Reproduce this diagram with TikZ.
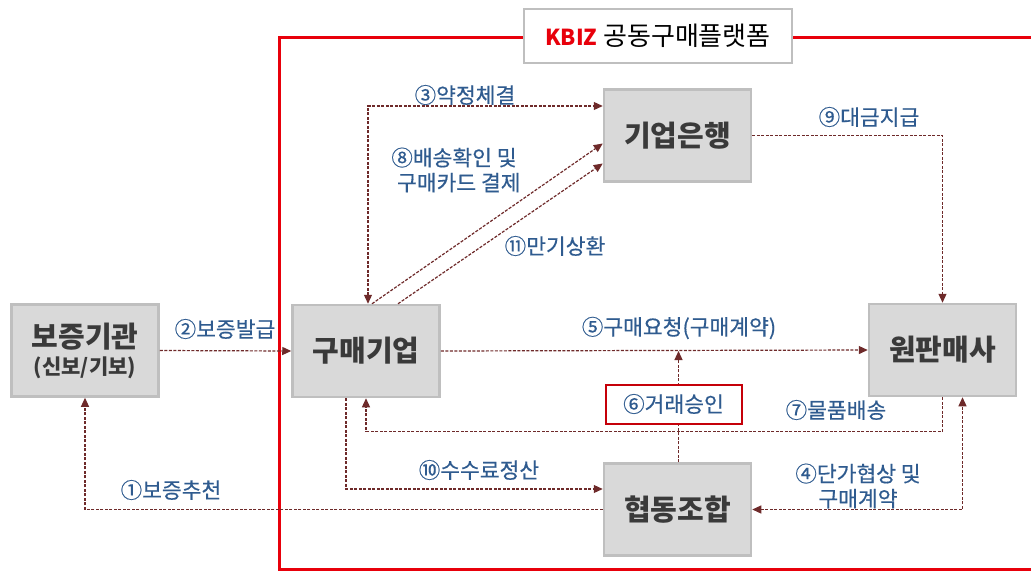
\documentclass[tikz,border=0pt]{standalone}
\usepackage{fontspec}
\setmainfont{Noto Sans CJK KR}
\newfontfamily\labfont[FakeBold=0.5]{Noto Sans CJK KR}
\usetikzlibrary{arrows.meta,calc}
\definecolor{boxfill}{HTML}{D9D9D9}
\definecolor{boxline}{HTML}{BFBFBF}
\definecolor{boxtext}{HTML}{3A3A3A}
\definecolor{lbl}{HTML}{2F5B8F}
\definecolor{arr}{HTML}{6E2A2A}
\definecolor{frame}{HTML}{E8000B}
\begin{document}
\begin{tikzpicture}[x=1pt,y=-1pt,
  box/.style={draw=boxline, line width=2.5pt, fill=boxfill, minimum width=147pt, minimum height=92pt, inner sep=0pt, font=\fontsize{29}{32}\selectfont\bfseries, text=boxtext, align=center},
  lab/.style={font=\labfont\fontsize{21.5}{25}\selectfont, text=lbl, align=center, inner sep=1pt},
  tip/.tip={Triangle[length=9pt,width=8pt]},
  conn/.style={draw=arr, line width=1.2pt, dash pattern=on 3pt off 1.5pt, -tip},
  conn2/.style={draw=arr, line width=1.2pt, dash pattern=on 3pt off 1.5pt, tip-tip}]
\useasboundingbox (0,0) rectangle (1031,571);
% red platform frame
\draw[frame, line width=3pt] (1031,37) -- (279,37) -- (279,569) -- (1031,569);
% boxes
\node[box] (bz) at (85,350.5) {보증기관\\[-5pt]{\fontsize{21}{24}\selectfont (신보/기보)}};
\node[box] (gm) at (366,351) {구매기업};
\node[box] (ib) at (677.5,135.5) {기업은행};
\node[box] (wp) at (942.5,350) {원판매사};
\node[box] (hj) at (677.5,509.5) {협동조합};
\node[draw=boxline, line width=2.5pt, fill=white, minimum width=268pt, minimum height=54pt, inner sep=0pt, font=\fontsize{26}{30}\selectfont] (title) at (658,36) {{\color{frame}\bfseries\fontsize{22}{26}\selectfont KBIZ}\ 공동구매플랫폼};
% connectors
\draw[conn] (bz.east) -- (gm.west);
\draw[conn] (hj.west) -| (bz.south);
\draw[conn2] ($(gm.north)+(2,0)$) |- ($(ib.west)+(0,-29.5)$);
\draw[conn] ($(gm.north)+(6,0)$) -- ($(ib.west)+(0,8)$);
\draw[conn] ($(gm.north)+(32,0)$) -- ($(ib.west)+(0,28)$);
\draw[conn] (ib.east) -| (wp.north);
\draw[conn] (gm.east) -- (wp.west);
\coordinate (h6) at ($(hj.north)+(1,0)$);
\draw[conn] (h6) -- (h6 |- gm.east);
\draw[conn] (wp.south) -- ++(0,34) -| (gm.south);
\draw[conn2] (hj.east) -| ($(wp.south)+(20,0)$);
\draw[conn] ($(gm.south)+(-20,0)$) |- ($(hj.west)+(0,-20.5)$);
% approval box
\node[draw=frame!85!black, line width=2pt, fill=white, minimum width=136pt, minimum height=39pt, inner sep=0pt, font=\labfont\fontsize{21.5}{25}\selectfont, text=lbl] (ok) at (673.5,404) {⑥거래승인};
% labels
\node[lab] (l2) at (225,329) {②보증발급};
\node[lab] (l1) at (171,490) {①보증추천};
\node[lab] (l3) at (465,95) {③약정체결};
\node[lab] (l8) at (454,170) {⑧배송확인 및\\\ \ 구매카드 결제};
\node[lab] (l11) at (555,246) {⑪만기상환};
\node[lab] (l9) at (869,117) {⑨대금지급};
\node[lab] (l5) at (679,328) {⑤구매요청(구매계약)};
\node[lab] (l7) at (836,410) {⑦물품배송};
\node[lab] (l4) at (858,486) {④단가협상 및\\구매계약};
\node[lab] (l10) at (479,470) {⑩수수료정산};
\end{tikzpicture}
\end{document}
